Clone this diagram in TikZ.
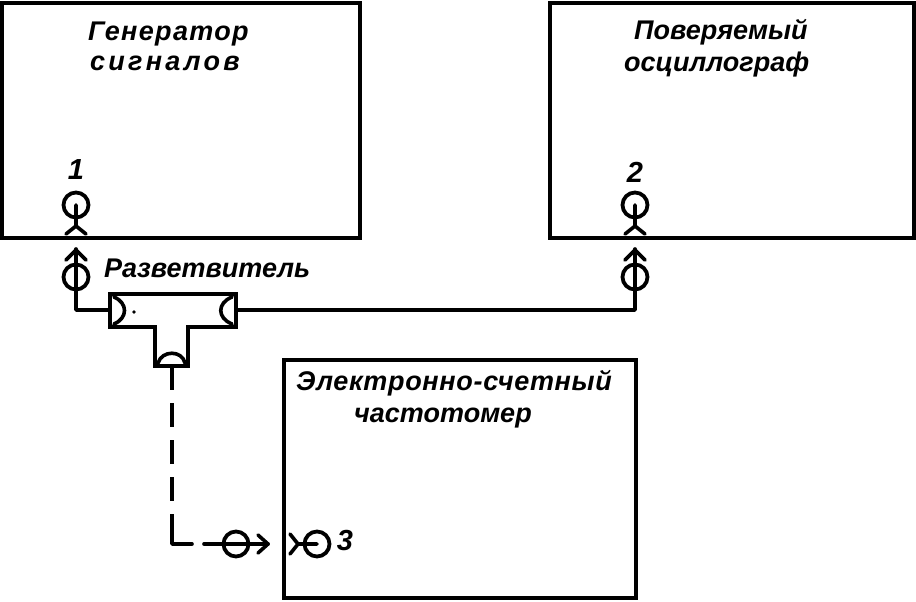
\documentclass[tikz,border=0pt]{standalone}
\usepackage{fontspec}
\setmainfont{Liberation Sans}
\usetikzlibrary{arrows.meta}
\tikzset{
  x=1pt,y=-1pt,
  thin ln/.style={line width=3.6pt,black,line cap=round,line join=round},
  blockbox/.style={draw=black,line width=3.6pt,fill=white,inner sep=0pt,minimum width=#1},
  lbl/.style={font=\bfseries\itshape\fontsize{27}{32}\selectfont,align=left,inner sep=0pt,black,anchor=west},
  num/.style={font=\itshape\bfseries\fontsize{29}{29}\selectfont,inner sep=0pt,black},
  ring/.style={draw=black,line width=3.8pt,circle,minimum size=25pt,inner sep=0pt,fill=none},
}
\begin{document}
\begin{tikzpicture}
\useasboundingbox (0,0) rectangle (916,602);
% blocks
\node[blockbox=358pt,minimum height=235pt] (gen) at (181,120.5) {};
\node[blockbox=364pt,minimum height=235pt] (osc) at (732,120.5) {};
\node[blockbox=352pt,minimum height=238pt] (frq) at (460,479) {};
\node[lbl] (t1) at (88,46) {{\addfontfeature{LetterSpace=5}Генератор}\\[-2pt]\hspace*{2pt}{\addfontfeature{LetterSpace=12}сигналов}};
\node[lbl] (t2) at (624,48) {\hspace*{10pt}Поверяемый\\осциллограф};
\node[lbl] (t3) at (296,399) {{\addfontfeature{LetterSpace=2.5}Электронно-счетный}\\\hspace*{58pt}частотомер};
\node[lbl] (t4) at (104,268) {Разветвитель};
\node[num] (n1) at (76,170) {1};
\node[num] (n2) at (635,172) {2};
\node[num] (n3) at (345,541) {3};
% sockets on blocks
\node[ring] (s1) at (76,205) {};
\node[ring] (s2) at (635,205) {};
\node[ring] (s3) at (317,544) {};
\coordinate (s1c) at (76,205); \coordinate (s1f) at (76,226);
\coordinate (s2c) at (635,205); \coordinate (s2f) at (635,226);
\coordinate (s3c) at (317,544); \coordinate (s3f) at (298,544);
\draw[thin ln] (s1c) -- (s1f) (66,234) -- (s1f) -- (86,234);
\draw[thin ln] (s2c) -- (s2f) (625,234) -- (s2f) -- (645,234);
\draw[thin ln] (s3c) -- (s3f) (290,534) -- (s3f) -- (290,554);
% plugs
\node[ring] (p1) at (76,277) {};
\node[ring] (p2) at (635,277) {};
\node[ring] (p3) at (236,544) {};
\coordinate (p1t) at (76,249); \coordinate (p2t) at (635,249); \coordinate (p3t) at (268,544);
% tee
\draw[line width=4pt,black,line join=miter] (110,294) -- (236,294) -- (236,327) -- (188,327) -- (188,366) -- (155,366) -- (155,327) -- (110,327) -- cycle;
\coordinate (teeL) at (110,310); \coordinate (teeR) at (236,310); \coordinate (teeB) at (172,366);
\draw[thin ln] (114,297) .. controls (128,303) and (128,318) .. (114,324);
\draw[thin ln] (232,297) .. controls (217,303) and (217,318) .. (232,324);
\draw[thin ln] (158,363) .. controls (162,350) and (182,350) .. (185,363);
% cables
\draw[thin ln] (teeL) -- (76,310) -- (p1t);
\draw[thin ln] (76,250) -- (66,260) (76,250) -- (86,260);
\draw[thin ln] (teeR) -- (635,310) -- (p2t);
\draw[thin ln] (635,250) -- (625,260) (635,250) -- (645,260);
\draw[thin ln,dash pattern=on 24pt off 13pt,line cap=butt] (teeB) -- (172,520);
\draw[thin ln] (172,520) -- (172,544) -- (192,544);
\draw[thin ln] (204,544) -- (p3t);
\draw[thin ln] (258,535) -- (268,544) -- (258,553);
\fill[black] (134,312) circle (1.8pt);
\end{tikzpicture}
\end{document}
